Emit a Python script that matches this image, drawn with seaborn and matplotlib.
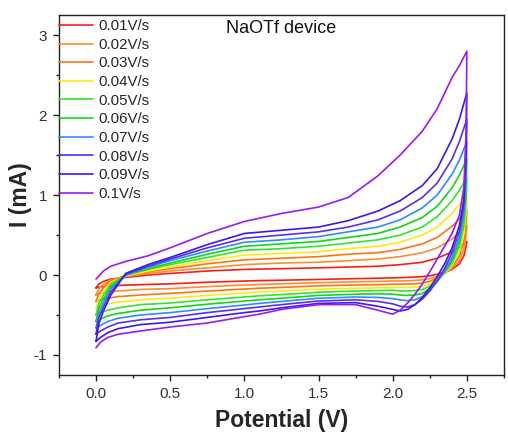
import numpy as np
import pandas as pd
import matplotlib
matplotlib.use("Agg")
import matplotlib.pyplot as plt
from matplotlib.ticker import MultipleLocator, FormatStrFormatter
import seaborn as sns

# Scan rates and their trace colours
rates = ["0.01V/s", "0.02V/s", "0.03V/s", "0.04V/s", "0.05V/s",
         "0.06V/s", "0.07V/s", "0.08V/s", "0.09V/s", "0.1V/s"]
colors = ["#FF1A1A", "#FF8C2E", "#FF7410", "#FFE81A", "#2EE62E",
          "#14D614", "#2F8CFF", "#5A2EF0", "#3A18F5", "#9B1AF5"]

# Forward (anodic) sweep potentials, V
v_fwd = [0.0, 0.02, 0.05, 0.1, 0.2, 0.35, 0.5, 0.75, 1.0, 1.25, 1.5, 1.7,
         1.9, 2.05, 2.2, 2.3, 2.4, 2.45, 2.5]
# Reverse (cathodic) sweep potentials, V
v_rev = [2.5, 2.495, 2.48, 2.45, 2.4, 2.35, 2.3, 2.25, 2.2, 2.15, 2.1, 2.05,
         2.0, 1.9, 1.75, 1.5, 1.25, 1.1, 1.0, 0.75, 0.5, 0.3, 0.15, 0.08,
         0.03, 0.0]

# Forward-sweep current, mA
i_fwd_001 = [-0.16, -0.11, -0.08, -0.05, -0.03, 0.0, 0.02, 0.05, 0.07, 0.08, 0.09, 0.1, 0.11, 0.13, 0.16, 0.21, 0.29, 0.35, 0.42]
i_fwd_002 = [-0.25, -0.17, -0.12, -0.06, -0.02, 0.02, 0.05, 0.09, 0.13, 0.15, 0.16, 0.18, 0.2, 0.23, 0.28, 0.34, 0.45, 0.53, 0.62]
i_fwd_003 = [-0.33, -0.23, -0.16, -0.07, -0.01, 0.04, 0.08, 0.14, 0.19, 0.21, 0.23, 0.26, 0.28, 0.32, 0.39, 0.47, 0.61, 0.7, 0.82]
i_fwd_004 = [-0.42, -0.29, -0.2, -0.09, -0.01, 0.05, 0.1, 0.18, 0.25, 0.27, 0.29, 0.33, 0.36, 0.41, 0.5, 0.6, 0.77, 0.88, 1.02]
i_fwd_005 = [-0.5, -0.35, -0.25, -0.11, 0.0, 0.07, 0.13, 0.22, 0.31, 0.33, 0.36, 0.4, 0.44, 0.5, 0.6, 0.73, 0.93, 1.06, 1.22]
i_fwd_006 = [-0.58, -0.41, -0.3, -0.14, 0.0, 0.08, 0.15, 0.26, 0.36, 0.39, 0.42, 0.47, 0.52, 0.6, 0.72, 0.86, 1.09, 1.25, 1.45]
i_fwd_007 = [-0.66, -0.47, -0.35, -0.17, 0.0, 0.1, 0.18, 0.3, 0.41, 0.44, 0.48, 0.54, 0.6, 0.69, 0.84, 1.0, 1.26, 1.44, 1.67]
i_fwd_008 = [-0.74, -0.53, -0.4, -0.21, 0.01, 0.11, 0.2, 0.34, 0.46, 0.5, 0.54, 0.6, 0.69, 0.8, 0.97, 1.15, 1.45, 1.67, 1.95]
i_fwd_009 = [-0.83, -0.6, -0.45, -0.25, 0.02, 0.13, 0.22, 0.38, 0.52, 0.56, 0.6, 0.68, 0.8, 0.93, 1.12, 1.33, 1.7, 1.95, 2.28]
i_fwd_010 = [-0.05, -0.01, 0.05, 0.11, 0.17, 0.24, 0.34, 0.52, 0.67, 0.77, 0.85, 0.97, 1.24, 1.5, 1.8, 2.08, 2.47, 2.62, 2.8]

# Reverse-sweep current, mA
i_rev_001 = [0.42, 0.36, 0.24, 0.14, 0.07, 0.035, 0.01, -0.01, -0.02, -0.025, -0.03, -0.033, -0.035, -0.04, -0.045, -0.055, -0.065, -0.07, -0.075, -0.09, -0.11, -0.12, -0.13, -0.14, -0.15, -0.16]
i_rev_002 = [0.62, 0.5, 0.32, 0.18, 0.08, 0.02, -0.02, -0.045, -0.06, -0.067, -0.072, -0.074, -0.075, -0.08, -0.085, -0.095, -0.11, -0.118, -0.125, -0.145, -0.17, -0.18, -0.2, -0.21, -0.23, -0.25]
i_rev_003 = [0.82, 0.65, 0.42, 0.24, 0.1, 0.02, -0.04, -0.08, -0.1, -0.11, -0.113, -0.115, -0.115, -0.12, -0.125, -0.135, -0.155, -0.165, -0.175, -0.2, -0.23, -0.25, -0.27, -0.29, -0.31, -0.33]
i_rev_004 = [1.02, 0.8, 0.52, 0.3, 0.12, 0.02, -0.06, -0.11, -0.14, -0.15, -0.155, -0.155, -0.155, -0.16, -0.165, -0.175, -0.2, -0.21, -0.225, -0.255, -0.29, -0.31, -0.34, -0.36, -0.39, -0.42]
i_rev_005 = [1.22, 0.95, 0.62, 0.36, 0.15, 0.03, -0.07, -0.14, -0.18, -0.195, -0.2, -0.2, -0.19, -0.195, -0.2, -0.215, -0.245, -0.26, -0.275, -0.31, -0.35, -0.37, -0.41, -0.44, -0.47, -0.5]
i_rev_006 = [1.45, 1.12, 0.72, 0.42, 0.18, 0.04, -0.08, -0.17, -0.23, -0.25, -0.255, -0.25, -0.24, -0.235, -0.24, -0.255, -0.29, -0.31, -0.325, -0.365, -0.41, -0.44, -0.48, -0.51, -0.55, -0.58]
i_rev_007 = [1.67, 1.28, 0.8, 0.48, 0.22, 0.05, -0.08, -0.19, -0.27, -0.31, -0.32, -0.31, -0.295, -0.28, -0.275, -0.29, -0.33, -0.355, -0.375, -0.42, -0.47, -0.5, -0.54, -0.58, -0.63, -0.66]
i_rev_008 = [1.95, 1.45, 0.88, 0.55, 0.28, 0.08, -0.07, -0.2, -0.3, -0.37, -0.4, -0.39, -0.36, -0.33, -0.31, -0.325, -0.37, -0.4, -0.42, -0.47, -0.53, -0.56, -0.6, -0.65, -0.7, -0.74]
i_rev_009 = [2.28, 1.65, 0.95, 0.62, 0.34, 0.14, -0.02, -0.16, -0.28, -0.37, -0.43, -0.45, -0.43, -0.39, -0.345, -0.355, -0.41, -0.45, -0.47, -0.53, -0.59, -0.62, -0.67, -0.72, -0.78, -0.83]
i_rev_010 = [2.8, 1.8, 1.1, 0.75, 0.52, 0.36, 0.2, 0.04, -0.11, -0.24, -0.35, -0.44, -0.49, -0.44, -0.37, -0.37, -0.43, -0.49, -0.52, -0.6, -0.65, -0.7, -0.74, -0.78, -0.84, -0.91]

i_fwd = [i_fwd_001, i_fwd_002, i_fwd_003, i_fwd_004, i_fwd_005,
         i_fwd_006, i_fwd_007, i_fwd_008, i_fwd_009, i_fwd_010]
i_rev = [i_rev_001, i_rev_002, i_rev_003, i_rev_004, i_rev_005,
         i_rev_006, i_rev_007, i_rev_008, i_rev_009, i_rev_010]

# Assemble each closed CV loop in sweep order
frames = []
for rate, fwd, rev in zip(rates, i_fwd, i_rev):
    v = list(v_fwd) + list(v_rev)
    cur = list(fwd) + list(rev)
    frames.append(pd.DataFrame({"V": v, "I": cur, "rate": rate,
                                "step": np.arange(len(v))}))
df = pd.concat(frames, ignore_index=True)

sns.set_theme(style="ticks")
plt.rcParams["font.family"] = ["Liberation Sans", "DejaVu Sans"]

fig = plt.figure(figsize=(5.08, 4.34), dpi=100)
ax = fig.add_axes([0.116, 0.136, 0.876, 0.829])

sns.lineplot(data=df, x="V", y="I", hue="rate", hue_order=rates,
             palette=colors, sort=False, estimator=None, units="rate",
             linewidth=1.2, ax=ax, legend="full")

handles, labels = ax.get_legend_handles_labels()
ax.legend(handles, labels, loc="upper left", bbox_to_anchor=(0.0, 0.989),
          frameon=False, fontsize=10.8, handlelength=2.25,
          handletextpad=0.36, labelspacing=0.31, borderpad=0.0,
          borderaxespad=0.0)

ax.text(0.5, 0.964, "NaOTf device", transform=ax.transAxes,
        ha="center", va="center", fontsize=13, color="#111111")

ax.set_xlim(-0.25, 2.75)
ax.set_ylim(-1.25, 3.25)
ax.xaxis.set_major_locator(MultipleLocator(0.5))
ax.xaxis.set_minor_locator(MultipleLocator(0.25))
ax.xaxis.set_major_formatter(FormatStrFormatter("%.1f"))
ax.yaxis.set_major_locator(MultipleLocator(1))
ax.yaxis.set_minor_locator(MultipleLocator(0.5))
ax.yaxis.set_major_formatter(FormatStrFormatter("%d"))

ax.tick_params(which="major", direction="out", length=4.5, width=1,
               labelsize=11, labelcolor="#333333", color="#222222", pad=4)
ax.tick_params(which="minor", direction="out", length=2.5, width=1,
               color="#222222")
for s in ax.spines.values():
    s.set_visible(True)
    s.set_linewidth(1.0)
    s.set_color("#222222")

ax.set_xlabel("Potential (V)", fontsize=16.5, fontweight="bold", labelpad=6)
ax.set_ylabel("I (mA)", fontsize=16.5, fontweight="bold", labelpad=1)

fig.savefig("out.png", dpi=100)
